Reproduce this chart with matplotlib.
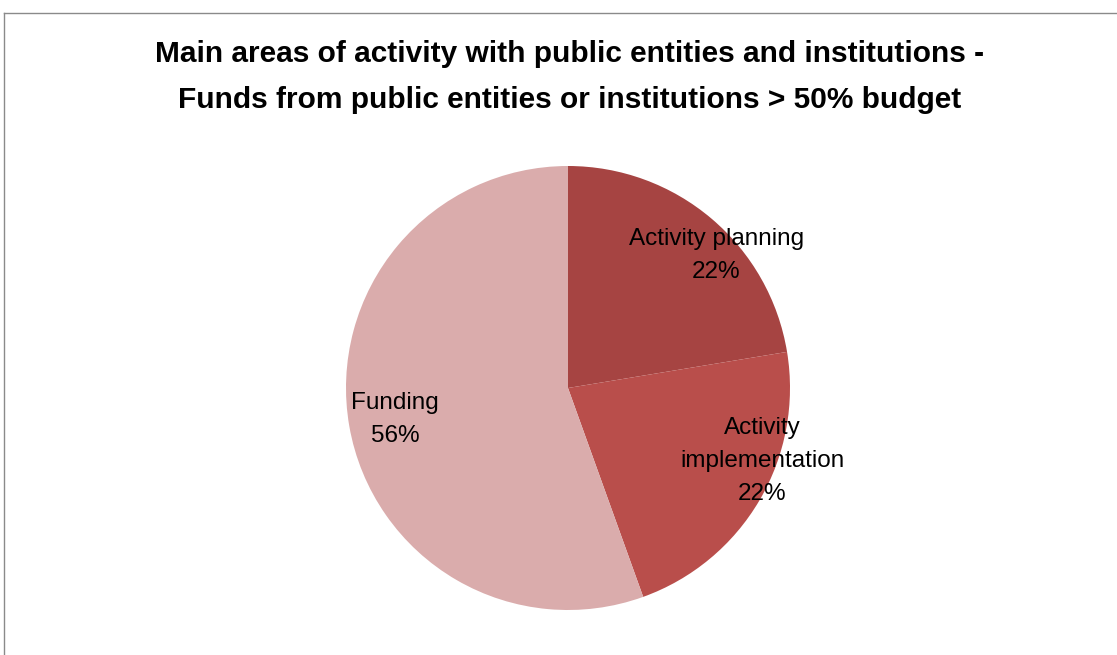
import matplotlib
matplotlib.use('Agg')
import matplotlib.pyplot as plt
from matplotlib import font_manager
from matplotlib.lines import Line2D

labels = ['Activity planning', 'Activity\nimplementation', 'Funding']
values = [22.4, 22.1, 55.5]
colors = ['#A64442', '#B94E4B', '#DAACAC']

title = ('Main areas of activity with public entities and institutions -\n'
         'Funds from public entities or institutions > 50% budget')

names = {f.name for f in font_manager.fontManager.ttflist}
if 'Liberation Sans Narrow' in names:
    title_font, title_size = 'Liberation Sans Narrow', 22
else:
    title_font, title_size = 'Liberation Sans', 21.5

plt.rcParams['font.family'] = ['Liberation Sans', 'DejaVu Sans']

W, H = 1117, 655
fig = plt.figure(figsize=(W / 100, H / 100), dpi=100)

# chart frame (only top and left edges visible)
fig.add_artist(Line2D([4 / W, 1], [1 - 13 / H, 1 - 13 / H], color='#8a8a8a', lw=1))
fig.add_artist(Line2D([4 / W, 4 / W], [0, 1 - 13 / H], color='#8a8a8a', lw=1))

fig.text(570 / W, 1 - 77 / H, title, ha='center', va='center',
         fontsize=title_size, fontweight='bold', family=title_font,
         linespacing=1.8)

# pie: centre (568, 388) px, radius ~222 px
ax = fig.add_axes([268 / W, 17 / H, 600 / W, 500 / H])
wedges, _ = ax.pie(values, colors=colors, startangle=90, counterclock=False,
                   wedgeprops=dict(linewidth=0))
ax.set_xlim(-300 / 222, 300 / 222)
ax.set_ylim(-250 / 222, 250 / 222)
ax.set_aspect('equal')
ax.axis('off')

label_pos = [(0.667, 0.595), (0.874, -0.329), (-0.779, -0.14)]
for lab, v, (x, y) in zip(labels, values, label_pos):
    ax.text(x, y, f'{lab}\n{v:.0f}%', ha='center', va='center',
            multialignment='center', fontsize=17.5, linespacing=1.65)

fig.savefig('out.png', dpi=100)
